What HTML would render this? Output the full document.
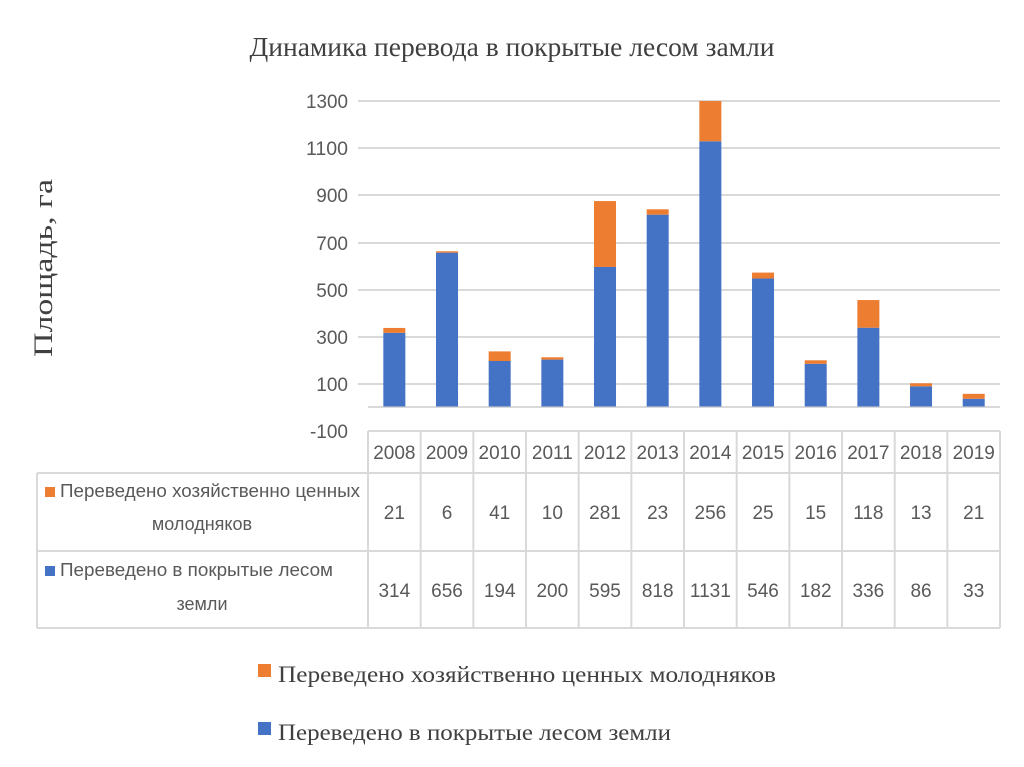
<!DOCTYPE html>
<html><head><meta charset="utf-8"><style>
body{margin:0;background:#fff}
svg{display:block}
.s{font-family:"Liberation Sans Narrow","Liberation Sans",sans-serif;fill:#595959}
.r{font-family:"Liberation Serif",serif;fill:#404040}
</style></head><body>
<svg width="1024" height="767" viewBox="0 0 1024 767" xmlns="http://www.w3.org/2000/svg">
<defs><clipPath id="cp"><rect x="360" y="101" width="650" height="320"/></clipPath></defs>
<text class="r" x="512" y="56" font-size="27" text-anchor="middle" textLength="525" lengthAdjust="spacingAndGlyphs">Динамика перевода в покрытые лесом замли</text>
<text class="r" x="0" y="0" font-size="26" text-anchor="middle" transform="translate(52,268) rotate(-90)" textLength="178" lengthAdjust="spacingAndGlyphs">Площадь, га</text>
<g stroke="#d9d9d9" stroke-width="2">
<line x1="358" x2="1000" y1="101" y2="101"/><line x1="358" x2="1000" y1="148" y2="148"/>
<line x1="358" x2="1000" y1="195" y2="195"/><line x1="358" x2="1000" y1="243" y2="243"/>
<line x1="358" x2="1000" y1="290" y2="290"/><line x1="358" x2="1000" y1="337" y2="337"/>
<line x1="358" x2="1000" y1="384" y2="384"/><line x1="368" x2="1000" y1="407" y2="407"/>
</g>
<g class="s" font-size="19" text-anchor="end">
<text x="348" y="108" textLength="42" lengthAdjust="spacingAndGlyphs">1300</text><text x="348" y="155" textLength="42" lengthAdjust="spacingAndGlyphs">1100</text><text x="348" y="202">900</text>
<text x="348" y="250">700</text><text x="348" y="297">500</text><text x="348" y="344">300</text>
<text x="348" y="391">100</text><text x="348" y="438">-100</text>
</g>
<g id="bars" clip-path="url(#cp)"></g>
<g stroke="#d9d9d9" stroke-width="2" fill="none">
<line x1="368" x2="1000" y1="431" y2="431"/>
<line x1="37" x2="1000" y1="473" y2="473"/>
<line x1="37" x2="1000" y1="551" y2="551"/>
<line x1="37" x2="1000" y1="628" y2="628"/>
<line x1="37" x2="37" y1="473" y2="628"/>
<g id="vl"></g>
</g>
<g class="s" font-size="18">
<rect x="45" y="487" width="10" height="10" fill="#ed7d31"/>
<text x="60" y="497" textLength="300" lengthAdjust="spacingAndGlyphs">Переведено хозяйственно ценных</text>
<text x="202" y="530" text-anchor="middle">молодняков</text>
<rect x="45" y="566" width="10" height="10" fill="#4472c4"/>
<text x="60" y="576" textLength="273" lengthAdjust="spacingAndGlyphs">Переведено в покрытые лесом</text>
<text x="202" y="610" text-anchor="middle">земли</text>
</g>
<g id="tx" class="s" font-size="19" text-anchor="middle"></g>
<rect x="258" y="664" width="13" height="13" fill="#ed7d31"/>
<text class="r" x="278" y="682" font-size="23" textLength="498" lengthAdjust="spacingAndGlyphs">Переведено хозяйственно ценных молодняков</text>
<rect x="258" y="722" width="13" height="13" fill="#4472c4"/>
<text class="r" x="278" y="740" font-size="23" textLength="393" lengthAdjust="spacingAndGlyphs">Переведено в покрытые лесом земли</text>
<script>
var yrs=[2008,2009,2010,2011,2012,2013,2014,2015,2016,2017,2018,2019];
var o=[21,6,41,10,281,23,256,25,15,118,13,21];
var b=[314,656,194,200,595,818,1131,546,182,336,86,33];
var ns="http://www.w3.org/2000/svg",w=52.67,y0=406.5,k=0.2345;
function el(p,t,a,txt){var e=document.createElementNS(ns,t);for(var q in a)e.setAttribute(q,a[q]);if(txt!=null)e.textContent=txt;document.getElementById(p).appendChild(e);}
for(var i=0;i<12;i++){var cx=368+w*(i+0.5);
var hb=b[i]*k,ho=o[i]*k;
el("bars","rect",{x:cx-11,y:y0-hb,width:22,height:hb,fill:"#4472c4"});
el("bars","rect",{x:cx-11,y:y0-hb-ho,width:22,height:ho,fill:"#ed7d31"});
el("tx","text",{x:cx,y:459},yrs[i]);
el("tx","text",{x:cx,y:519},o[i]);
el("tx","text",{x:cx,y:597},b[i]);
}
for(var i=0;i<=12;i++){var x=368+w*i;el("vl","line",{x1:x,x2:x,y1:431,y2:628});}
</script>
</svg>
</body></html>
